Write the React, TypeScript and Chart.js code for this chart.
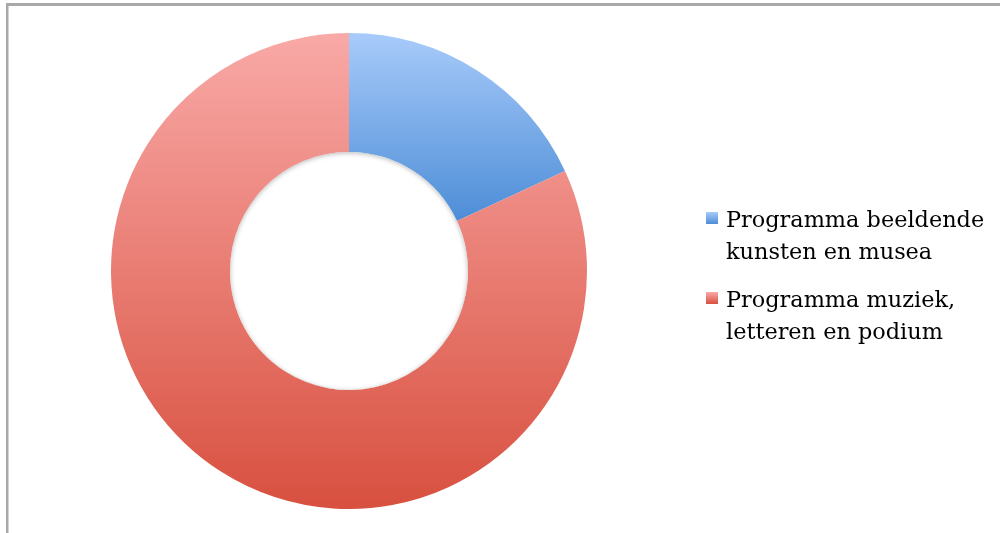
import React, { useEffect, useRef } from "react";
import { Chart, registerables } from "chart.js";

Chart.register(...registerables);

const categories: string[][] = [
  ["Programma beeldende", "kunsten en musea"],
  ["Programma muziek,", "letteren en podium"],
];
const values: number[] = [18.1, 81.9];
const topColors: string[] = ["#a8cbfa", "#f9a9a7"];
const bottomColors: string[] = ["#4d8dd7", "#d8503f"];

const framePlugin = {
  id: "frame",
  beforeDraw(chart: any) {
    const ctx = chart.ctx;
    ctx.save();
    ctx.fillStyle = "#ffffff";
    ctx.fillRect(0, 0, chart.width, chart.height);
    ctx.fillStyle = "#a9a9a9";
    ctx.fillRect(6, 3, chart.width - 6, 3);
    ctx.fillRect(6, 3, 2.5, chart.height - 3);
    ctx.restore();
  },
};

const holeShadowPlugin = {
  id: "holeShadow",
  afterDatasetsDraw(chart: any) {
    const meta = chart.getDatasetMeta(0);
    const arc = meta.data[0];
    if (!arc) return;
    const { x, y, innerRadius } = arc.getProps(["x", "y", "innerRadius"], true);
    const ctx = chart.ctx;
    ctx.save();
    ctx.beginPath();
    ctx.arc(x, y, innerRadius, 0, Math.PI * 2);
    ctx.clip();
    ctx.shadowColor = "rgba(0,0,0,0.28)";
    ctx.shadowBlur = 5;
    ctx.shadowOffsetY = 1;
    ctx.strokeStyle = "#ffffff";
    ctx.lineWidth = 10;
    ctx.beginPath();
    ctx.arc(x, y, innerRadius + 5, 0, Math.PI * 2);
    ctx.stroke();
    ctx.restore();
  },
};

const legendPlugin = {
  id: "customLegend",
  afterDraw(chart: any) {
    const ctx = chart.ctx;
    ctx.save();
    ctx.font = "22.4px 'DejaVu Serif'";
    ctx.textBaseline = "alphabetic";
    const x0 = 706;
    const starts = [227, 307];
    categories.forEach((lines, i) => {
      const y = starts[i];
      const g = ctx.createLinearGradient(0, y - 15, 0, y - 3);
      g.addColorStop(0, topColors[i]);
      g.addColorStop(1, bottomColors[i]);
      ctx.fillStyle = g;
      ctx.fillRect(x0, y - 15, 12, 12);
      ctx.fillStyle = "#000000";
      lines.forEach((ln, j) => {
        ctx.fillText(ln, x0 + 20, y + j * 32);
      });
    });
    ctx.restore();
  },
};

function makeBg(context: any) {
  const chart = context.chart;
  const area = chart.chartArea;
  if (!area) return topColors[context.dataIndex];
  const i = context.dataIndex;
  const cy = (area.top + area.bottom) / 2;
  const R = Math.min(area.right - area.left, area.bottom - area.top) / 2;
  const r = R * 0.5;
  const total = values.reduce((a, b) => a + b, 0);
  const top = cy - R;
  let bottom = cy + R;
  if (i === 0) {
    const ang = (values[0] / total) * Math.PI * 2;
    bottom = cy - r * Math.cos(ang);
  }
  const g = chart.ctx.createLinearGradient(0, top, 0, bottom);
  g.addColorStop(0, topColors[i]);
  g.addColorStop(1, bottomColors[i]);
  return g;
}

export default function App() {
  const ref = useRef<HTMLCanvasElement | null>(null);
  useEffect(() => {
    if (!ref.current) return;
    const chart = new Chart(ref.current, {
      type: "doughnut",
      data: {
        labels: categories.map((c) => c.join(" ")),
        datasets: [
          {
            data: values,
            backgroundColor: makeBg,
            borderWidth: 0,
          },
        ],
      },
      options: {
        animation: false,
        responsive: false,
        cutout: "50%",
        layout: { padding: { left: 111, top: 33, right: 413, bottom: 24 } },
        plugins: {
          legend: { display: false },
          tooltip: { enabled: false },
        },
      },
      plugins: [framePlugin, holeShadowPlugin, legendPlugin],
    });
    return () => chart.destroy();
  }, []);
  return (
    <div style={{ position: "fixed", left: 0, top: 0, width: 1000, height: 533 }}>
      <canvas ref={ref} width={1000} height={533} style={{ width: 1000, height: 533 }} />
    </div>
  );
}
